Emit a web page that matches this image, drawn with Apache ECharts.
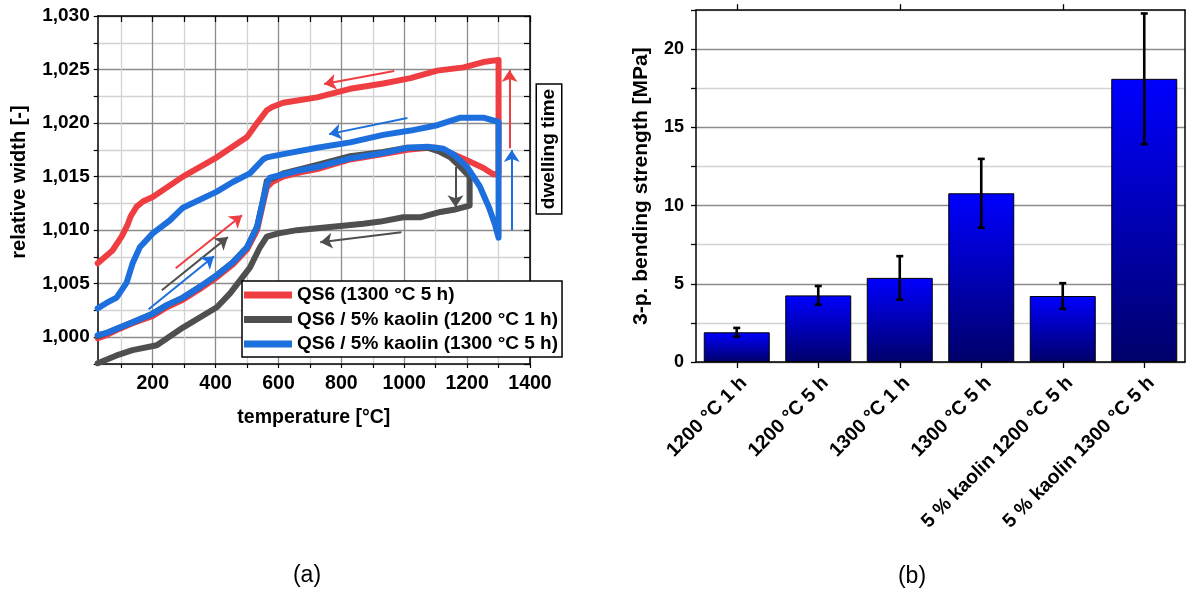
<!DOCTYPE html>
<html><head><meta charset="utf-8">
<script src="https://cdn.jsdelivr.net/npm/echarts@6/dist/echarts.min.js"></script>
<style>html,body{margin:0;padding:0;background:#fff}#c{width:1186px;height:592px}</style>
</head><body><div id="c"></div>
<script>
// ---------- DATA: (a) relative width vs temperature ----------
const seriesNames = ['QS6 (1300 °C 5 h)', 'QS6 / 5% kaolin (1200 °C 1 h)', 'QS6 / 5% kaolin (1300 °C 5 h)'];
const redCurve = [
  [25,0.9999],[53,1.0002],[95,1.0008],[136,1.0013],[200,1.0020],[245,1.0028],[296,1.0035],[350,1.0045],
  [404,1.0056],[455,1.0068],[500,1.0082],[532,1.0100],[551,1.0125],[563,1.0140],[580,1.0145],[615,1.0150],
  [669,1.0154],[723,1.0157],[828,1.0166],[933,1.0171],[1010,1.0175],[1074,1.0177],[1105,1.0177],[1147,1.0172],
  [1201,1.0165],[1252,1.0158],[1284,1.0152],[1300,1.0153],[1300,1.0259],
  [1252,1.0257],[1189,1.0252],[1105,1.0249],[1020,1.0242],[933,1.0237],[828,1.0232],[723,1.0224],[615,1.0219],
  [580,1.0215],[563,1.0212],[532,1.0200],[500,1.0187],[404,1.0168],[296,1.0150],[200,1.0131],[170,1.0127],[149,1.0122],
  [130,1.0113],[120,1.0105],[101,1.0094],[72,1.0081],[25,1.0069]
];
const grayCurve = [
  [25,1.0001],[53,1.0004],[95,1.0009],[136,1.0014],[200,1.0022],[245,1.0030],[296,1.0037],[350,1.0047],
  [404,1.0058],[455,1.0070],[500,1.0084],[532,1.0103],[551,1.0128],[563,1.0146],[615,1.0153],[669,1.0157],
  [723,1.0161],[828,1.0169],[933,1.0173],[1010,1.0177],[1074,1.0177],[1115,1.0173],[1147,1.0168],[1175,1.0160],
  [1208,1.0150],[1208,1.0123],
  [1157,1.0119],[1115,1.0117],[1051,1.0112],[997,1.0112],[924,1.0108],[870,1.0106],[764,1.0103],[659,1.0100],
  [600,1.0097],[563,1.0094],[541,1.0084],[509,1.0065],[446,1.0041],[404,1.0028],[296,1.0009],[213,0.99925],
  [136,0.9988],[85,0.9983],[25,0.99757]
];
const blueCurve = [
  [25,1.0002],[53,1.0004],[95,1.0009],[136,1.0014],[200,1.0022],[245,1.0030],[296,1.0037],[350,1.0047],
  [404,1.0058],[455,1.0070],[500,1.0084],[532,1.0103],[551,1.0128],[563,1.0143],[573,1.0149],[615,1.0152],
  [669,1.0156],[723,1.0159],[828,1.0167],[933,1.0172],[1010,1.0177],[1074,1.0178],[1125,1.0176],[1160,1.0170],
  [1200,1.0159],[1240,1.0141],[1270,1.0121],[1290,1.0104],[1300,1.0093],[1300,1.0201],
  [1252,1.0205],[1179,1.0205],[1105,1.0198],[1020,1.0193],[933,1.0189],[828,1.0182],[723,1.0177],[615,1.0171],
  [563,1.0168],[551,1.0166],[509,1.0153],[455,1.0145],[404,1.0136],[296,1.0121],[254,1.0109],[200,1.0097],
  [159,1.0084],[136,1.0069],[117,1.0051],[85,1.0037],[53,1.0032],[25,1.0027]
];
// arrows: [[T1,W1],[T2,W2]]
const redArrows  = [[[273,1.00645],[484,1.0114]], [[968,1.02486],[745,1.02364]], [[1335,1.01766],[1335,1.02495]]];
const grayArrows = [[[229,1.00439],[439,1.00935]], [[991,1.00981],[733,1.00888]], [[1163,1.01589],[1163,1.01215]]];
const blueArrows = [[[187,1.00262],[395,1.00757]], [[1010,1.02047],[761,1.01897]], [[1342,1.0100],[1342,1.01748]]];
const xLabelValues = [200,400,600,800,1000,1200,1400];
const xTickValues  = [100,200,300,400,500,600,700,800,900,1000,1100,1200,1300,1400];

// ---------- DATA: (b) bending strength ----------
const barCategories = ['1200 °C 1 h','1200 °C 5 h','1300 °C 1 h','1300 °C 5 h','5 % kaolin 1200 °C 5 h','5 % kaolin 1300 °C 5 h'];
const barMeans  = [1.90, 4.26, 5.38, 10.79, 4.22, 18.11];
const barErrors = [0.28, 0.60, 1.39, 2.20, 0.82, 4.18];

// ---------- STYLE ----------
const FONT = '"Liberation Sans", Arial, sans-serif';
const C = {red:'#ef3e42', gray:'#4f4f4f', blue:'#1c6fdc'};
const boldTxt = (s) => ({fontFamily:FONT, fontWeight:'bold', fontSize:s, color:'#000'});
const fmtW = v => v.toFixed(3).replace('.', ',');
const isMajorW = v => Math.round(v*10000) % 50 === 0;
const frameLine = {show:true, onZero:false, lineStyle:{color:'#000', width:1.5}};

const chart = echarts.init(document.getElementById('c'), null, {renderer:'canvas'});

const arrowSeries = (arr, color) => ({
  type:'lines', coordinateSystem:'cartesian2d', xAxisIndex:0, yAxisIndex:0,
  symbol:['none','arrow'], symbolSize:[1,12], z:5, silent:true,
  lineStyle:{color:color, width:2, opacity:1, curveness:0},
  data: arr.map(a => ({coords:a}))
});

const option = {
  animation:false,
  backgroundColor:'#fff',
  grid:[
    {left:97.7, top:16, width:432.3, height:348, containLabel:false, outerBoundsMode:'none'},
    {left:696, top:10.2, width:489, height:351.8, containLabel:false, outerBoundsMode:'none'}
  ],
  legend:{
    data:seriesNames, orient:'vertical', left:242, top:281,
    icon:'rect', itemWidth:48, itemHeight:7, itemGap:4.5,
    padding:[4,4,3,2], backgroundColor:'#fff', borderColor:'#000', borderWidth:1.5,
    textStyle:Object.assign(boldTxt(19), {lineHeight:20}), z:20, selectedMode:false
  },
  xAxis:[
    {gridIndex:0, type:'value', min:25, max:1400, position:'bottom',
     name:'temperature [°C]', nameLocation:'middle', nameGap:44, nameTextStyle:boldTxt(19.5),
     axisLine:frameLine,
     axisTick:{show:true, inside:false, length:4, customValues:xTickValues, lineStyle:{color:'#000', width:1.2}},
     axisLabel:Object.assign(boldTxt(19.5), {customValues:xLabelValues, margin:10, formatter:v=>String(v)}),
     splitLine:{show:true, lineStyle:{color:['#d2d2d2','#8c8c8c'], width:1.3}}},
    {gridIndex:0, type:'value', min:25, max:1400, position:'top',
     axisLine:frameLine,
     axisTick:{show:true, inside:true, length:6, customValues:xTickValues, lineStyle:{color:'#000', width:1.2}},
     axisLabel:{show:false}, splitLine:{show:false}},
    {gridIndex:1, type:'category', data:barCategories, position:'bottom',
     axisLine:frameLine,
     axisTick:{show:true, alignWithLabel:true, length:6, lineStyle:{color:'#000', width:1.3}},
     axisLabel:Object.assign(boldTxt(19.5), {rotate:45, interval:0, margin:11, verticalAlign:'top'}),
     splitLine:{show:false}},
    {gridIndex:1, type:'category', data:barCategories, position:'top',
     axisLine:frameLine,
     axisTick:{show:true, alignWithLabel:true, length:6, lineStyle:{color:'#000', width:1.3}},
     axisLabel:{show:false}, splitLine:{show:false}}
  ],
  yAxis:[
    {gridIndex:0, type:'value', min:0.9975, max:1.03, interval:0.0025, position:'left',
     name:'relative width [-]', nameLocation:'middle', nameGap:68,
     nameTextStyle:Object.assign(boldTxt(20), {padding:[0,0,0,16]}),
     axisLine:frameLine,
     axisTick:{show:true, inside:false, length:4, lineStyle:{color:'#000', width:1.2}},
     axisLabel:Object.assign(boldTxt(19), {margin:8, formatter:v => isMajorW(v) ? fmtW(v) : ''}),
     splitLine:{show:true, lineStyle:{color:['#d2d2d2','#8c8c8c'], width:1.3}}},
    {gridIndex:0, type:'value', min:0.9975, max:1.03, interval:0.0025, position:'right',
     axisLine:frameLine,
     axisTick:{show:true, inside:true, length:6, lineStyle:{color:'#000', width:1.2}},
     axisLabel:{show:false}, splitLine:{show:false}},
    {gridIndex:1, type:'value', min:0, max:22.5, interval:2.5, position:'left',
     name:'3-p. bending strength [MPa]', nameLocation:'middle', nameGap:44, nameTextStyle:boldTxt(21),
     axisLine:frameLine,
     axisTick:{show:true, inside:false, length:5, lineStyle:{color:'#000', width:1.3}},
     axisLabel:Object.assign(boldTxt(18), {margin:12, formatter:v => (Math.round(v*10) % 50 === 0 ? String(v) : '')}),
     splitLine:{show:true, lineStyle:{color:['#8c8c8c','#d2d2d2'], width:1.3}}},
    {gridIndex:1, type:'value', min:0, max:22.5, interval:2.5, position:'right',
     axisLine:frameLine, axisTick:{show:false}, axisLabel:{show:false}, splitLine:{show:false}}
  ],
  series:[
    {name:seriesNames[0], type:'line', xAxisIndex:0, yAxisIndex:0, data:redCurve, showSymbol:false, symbol:'none',
     lineStyle:{color:C.red, width:6, join:'round', cap:'round'}, itemStyle:{color:C.red}, z:2},
    {name:seriesNames[1], type:'line', xAxisIndex:0, yAxisIndex:0, data:grayCurve, showSymbol:false, symbol:'none',
     lineStyle:{color:C.gray, width:6, join:'round', cap:'round'}, itemStyle:{color:C.gray}, z:3},
    {name:seriesNames[2], type:'line', xAxisIndex:0, yAxisIndex:0, data:blueCurve, showSymbol:false, symbol:'none',
     lineStyle:{color:C.blue, width:6, join:'round', cap:'round'}, itemStyle:{color:C.blue}, z:4},
    arrowSeries(redArrows, C.red),
    arrowSeries(grayArrows, C.gray),
    arrowSeries(blueArrows, C.blue),
    {name:'strength', type:'bar', xAxisIndex:2, yAxisIndex:2, data:barMeans, barWidth:66,
     itemStyle:{color:new echarts.graphic.LinearGradient(0,0,0,1,[{offset:0,color:'#0000ff'},{offset:1,color:'#00006a'}]),
                borderColor:'#000', borderWidth:1}},
    {name:'error', type:'custom', xAxisIndex:2, yAxisIndex:2, z:10,
     data: barMeans.map((m,i) => [i, m - barErrors[i], m + barErrors[i]]),
     encode:{x:0, y:[1,2]},
     renderItem:(params, api) => {
       const lo = api.coord([api.value(0), api.value(1)]);
       const hi = api.coord([api.value(0), api.value(2)]);
       const w = 3.5, st = {stroke:'#000', lineWidth:2.6};
       return {type:'group', children:[
         {type:'line', shape:{x1:hi[0], y1:hi[1], x2:lo[0], y2:lo[1]}, style:st},
         {type:'line', shape:{x1:hi[0]-w, y1:hi[1], x2:hi[0]+w, y2:hi[1]}, style:st},
         {type:'line', shape:{x1:lo[0]-w, y1:lo[1], x2:lo[0]+w, y2:lo[1]}, style:st}
       ]};
     }}
  ],
  graphic:[
    {type:'text', x:549, y:149, rotation:Math.PI/2, z:50,
     style:{text:'dwelling time', fontFamily:FONT, fontWeight:'bold', fontSize:19, fill:'#000',
            align:'center', verticalAlign:'middle', padding:[3,4,2,4],
            backgroundColor:'#fff', borderColor:'#000', borderWidth:1.5}},
    {type:'text', x:307, y:576, z:50,
     style:{text:'(a)', fontFamily:FONT, fontSize:23, fill:'#000', align:'center', verticalAlign:'middle'}},
    {type:'text', x:912, y:577, z:50,
     style:{text:'(b)', fontFamily:FONT, fontSize:23, fill:'#000', align:'center', verticalAlign:'middle'}}
  ]
};
chart.setOption(option);
</script>
</body></html>
